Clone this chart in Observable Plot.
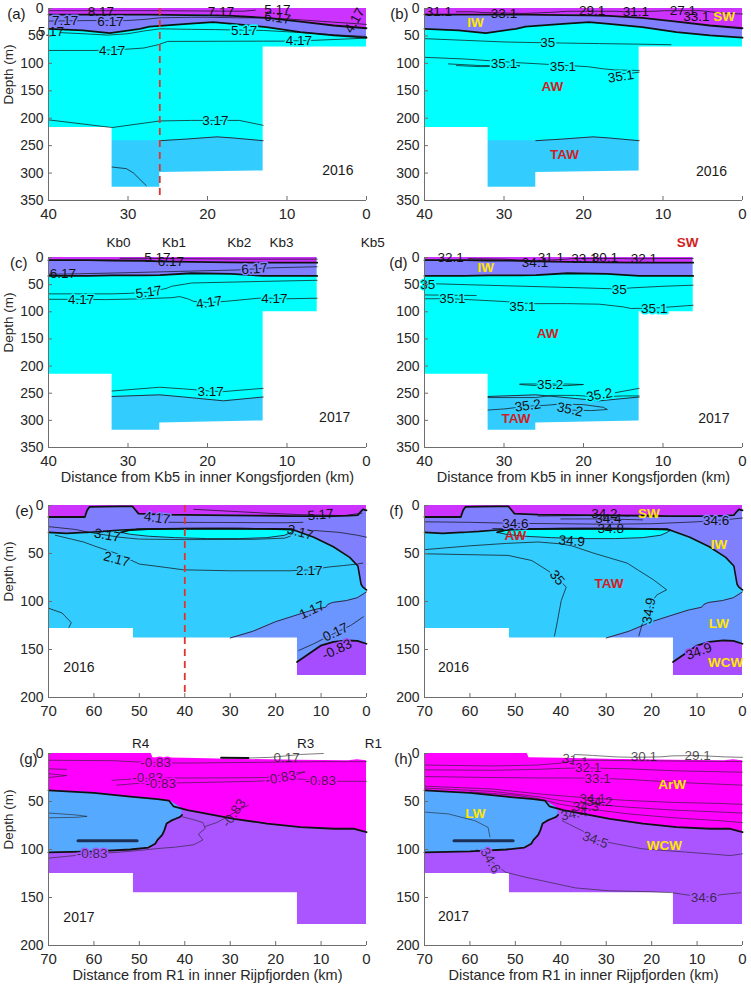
<!DOCTYPE html>
<html>
<head>
<meta charset="utf-8">
<script src="https://cdn.jsdelivr.net/npm/d3@7"></script>
<script src="https://cdn.jsdelivr.net/npm/@observablehq/plot@0.6"></script>
<style>
  body { margin: 0; background: #fff; }
  #fig { position: relative; width: 751px; height: 991px; overflow: hidden; font-family: "Liberation Sans", Arial, sans-serif; }
  #fig svg { position: absolute; }
</style>
</head>
<body>
<div id="fig"></div>
<script>
// ---------- axes ----------
const kongTicksX = [40, 30, 20, 10, 0];
const kongTicksY = [0, 50, 100, 150, 200, 250, 300, 350];
const rijpTicksX = [70, 60, 50, 40, 30, 20, 10, 0];
const rijpTicksY = [0, 50, 100, 150, 200];

const kongStationNames = ["Kb0", "Kb1", "Kb2", "Kb3", "Kb5"];
const kongStationKm = [31.2, 24.2, 16.0, 10.7, -0.8];
const rijpStationNames = ["R4", "R3", "R1"];
const rijpStationKm = [49.7, 13.4, -1.5];

// ---------- water-mass colours ----------
const SWc = "#cc33ff", IWc = "#8080ff", AWc = "#00ffff", TAWc = "#33ccff";
const LWc = "#6b95ff", WCWc = "#a64dff";
const ArWc = "#ff00ff", LW17c = "#55aaff", WCW17c = "#aa55ff";
const YEL = "#ffe600", RED = "#d11f1f";
const NOHALO = "none";

// ---------- Kongsfjorden 2016: [km, SW/IW interface, IW/AW interface] ----------
const kong16Layers = [[40,11,37],[35.7,11,40],[32.3,11,45],[28.5,11,37],[27.3,11,33],[22.6,12,28],[19.3,12.5,25],[16.8,13.5,28],[12.6,17,34],[8.3,24,43],[4.1,31,49],[0,36,53]];
const kong16Taw = [[40,241],[26,241],[22.6,238],[18.8,234],[16.8,236],[13,241],[0,241]];
const kong16Bottom = [[40,217],[32,217],[32,326],[26,326],[26,299],[13,296],[13,70],[0,70]];

const kongT16Lines = [
  [[40,4],[26,4],[21,4.5],[15.5,5],[14,3]],
  [[40,23],[35,22],[30.2,22],[28,20],[26,17],[22,16],[20,16],[16,17],[12.5,17],[10,19],[6,23],[3,26],[0,29]],
  [[38.5,44],[35,46.5],[32.5,48.5],[30,46],[28,41],[26,37],[22,38],[19,38.5],[13,40],[8,44],[4,48],[0,51]],
  [[40,76.5],[34,76.5],[30,74],[28,72],[26.2,66],[25,60],[13,59.5],[10.5,59.5],[6.5,58],[0,54]],
  [[40,203],[32,217],[26,205],[22,204],[16,204],[13,213]],
  [[32,289],[30.2,292],[29.3,300],[27.7,323]]
];
const kongT16Labels = [
  {t:"8.17", d:33.4, z:5, bg:NOHALO}, {t:"7.17", d:18.3, z:5, bg:NOHALO}, {t:"5.17", d:11.2, z:2, bg:NOHALO},
  {t:"7.17", d:37.9, z:22, bg:IWc}, {t:"6.17", d:32.2, z:24, bg:IWc}, {t:"6.17", d:11.2, z:17, r:8, bg:NOHALO},
  {t:"5.17", d:39.7, z:43, bg:NOHALO}, {t:"5.17", d:15.4, z:40, bg:AWc},
  {t:"4.17", d:32, z:76.5, bg:AWc}, {t:"4.17", d:8.5, z:59, bg:AWc}, {t:"4.17", d:1.5, z:22, r:-60, bg:NOHALO},
  {t:"3.17", d:19, z:204, bg:AWc}
];
const kongS16Lines = [
  [[36,6],[34,6],[32.5,7.5],[27.5,9],[24,7],[22,5],[15.8,5],[15,6],[11,5],[9.8,4],[5.2,4],[4,6],[2,9],[0,10]],
  [[40,55],[35,58],[30,61],[26.5,62],[22.5,63],[18,64],[13,65],[9,66]],
  [[40,89],[35,92],[32,95],[28,99],[25.5,101],[19.5,106],[17.5,110],[16,112],[13,113]],
  [[37,101],[33,104],[28,104.5],[33,106],[36,104]],
  [[17,120],[14,118],[13,116]]
];
const kongS16Labels = [
  {t:"31.1", d:38.2, z:5, bg:NOHALO}, {t:"33.1", d:30, z:9, bg:NOHALO}, {t:"29.1", d:18.9, z:3.6, bg:NOHALO},
  {t:"31.1", d:13.4, z:6.6, bg:NOHALO}, {t:"27.1", d:7.5, z:3.6, bg:NOHALO}, {t:"33.1", d:5.8, z:14, bg:NOHALO},
  {t:"35", d:24.5, z:63, bg:AWc}, {t:"35.1", d:30, z:100, bg:AWc}, {t:"35.1", d:22.6, z:106, bg:AWc},
  {t:"35.1", d:15.3, z:124, r:-8, bg:AWc}
];
const kongS16Masses = [
  {t:"IW", d:33.6, z:25, c:YEL}, {t:"SW", d:2.3, z:14, c:YEL},
  {t:"AW", d:23.9, z:142, c:RED}, {t:"TAW", d:22.4, z:266, c:RED}
];

// ---------- Kongsfjorden 2017 ----------
const kong17Layers = [[40,5,34],[35,5,34],[32,5.5,33],[28,6,33],[26,7,32.5],[22,8,29],[17,9,30],[13,9.5,34],[10,9.5,34],[6.2,9.5,34]];
const kong17Taw = [[40,256],[32,256],[26,253],[23,257],[18,264],[13,257],[6.2,257]];
const kong17Bottom = [[40,215],[32,215],[32,318],[26,318],[26,305],[13,301],[13,100],[6.2,100],[6.2,0],[0,0]];

const kongT17Lines = [
  [[31,1.5],[28,1.5],[24,2],[20,2.5],[15,3],[10,3],[6.2,3]],
  [[40,31],[36.3,30],[30,28],[22,25],[16.3,23],[12,19],[6.2,17]],
  [[40,67],[32,67],[29.8,66],[27.4,64],[25.2,57],[24.5,53],[22,47],[13,44],[6.2,42]],
  [[40,77],[35.9,77],[32.8,77.6],[28,76],[24.5,74],[23.5,72],[22.5,76],[21.7,81],[19.8,83],[17.6,80.6],[15,77],[13.6,75],[11.6,75],[10,76],[6.2,75]],
  [[32,246],[26,239],[23,242],[19.6,246],[18,247],[13,241]]
];
const kongT17Labels = [
  {t:"5.17", d:26.3, z:1, bg:NOHALO}, {t:"6.17", d:24.6, z:8, bg:NOHALO}, {t:"6.17", d:38.2, z:30.5, bg:NOHALO},
  {t:"6.17", d:14.1, z:21, r:-5, bg:IWc}, {t:"5.17", d:27.4, z:64, r:-8, bg:AWc}, {t:"4.17", d:35.9, z:77, bg:AWc},
  {t:"4.17", d:19.8, z:83, r:-8, bg:AWc}, {t:"4.17", d:11.6, z:75, bg:AWc}, {t:"3.17", d:19.6, z:248, bg:AWc}
];
const kongS17Lines = [
  [[34.5,2],[30,3],[28,5],[26,6],[22,3],[21.5,2],[15,2],[14,2.5],[10,2],[6.2,2]],
  [[38.5,48.5],[30,52],[20,56],[15.5,58],[14,56],[10,53],[6.2,51]],
  [[40,69],[33.5,70]],
  [[40,76],[36.5,76],[34,78],[30,81],[27.7,84],[26,85],[22,85],[18,86],[15,91],[14,94],[11.1,93],[9,91],[6.2,88]],
  [[28,233],[26.3,233],[24.2,233],[22.3,233],[20,234],[22,236],[26,236],[28,234]],
  [[16,249],[13,241]],
  [[32,258],[26,258],[24,254],[21,254],[18,257],[15,255],[13,255]],
  [[32,281],[30,279],[27,274],[24.5,272],[23,270],[20,271],[17.5,276],[17,280],[19,282],[21.7,281]]
];
const kongS17Labels = [
  {t:"32.1", d:36.7, z:1, bg:NOHALO}, {t:"34.1", d:26.1, z:9, bg:NOHALO}, {t:"31.1", d:24.1, z:0, bg:NOHALO},
  {t:"33.1", d:19.9, z:1.5, bg:NOHALO}, {t:"30.1", d:17.3, z:0.5, bg:NOHALO}, {t:"32.1", d:12.4, z:2, bg:NOHALO},
  {t:"35", d:39.6, z:50, bg:AWc}, {t:"35", d:15.5, z:59, bg:AWc},
  {t:"35.1", d:36.5, z:75, bg:AWc}, {t:"35.1", d:27.7, z:90, bg:AWc}, {t:"35.1", d:11.1, z:95, bg:AWc},
  {t:"35.2", d:24.2, z:235, bg:AWc}, {t:"35.2", d:18, z:253, r:-10, bg:AWc},
  {t:"35.2", d:27, z:273, r:-8, bg:TAWc}, {t:"35.2", d:21.7, z:280, r:12, bg:TAWc}
];
const kongS17Masses = [
  {t:"IW", d:32.3, z:19.6, c:YEL}, {t:"AW", d:24.5, z:140.6, c:RED},
  {t:"TAW", d:28.5, z:296, c:RED}, {t:"SW", d:6.9, z:-28, c:RED}
];

// ---------- Rijpfjorden 2016: [km, SW/IW interface, top of AW/TAW] ----------
const rijp16Layers = [[70,12,28],[66,12,29],[62,12,28],[61.5,5,28],[61,1.5,27.8],[58,1.2,27],[54,1,25.5],[51.5,1,25],[50.8,5,24.8],[50.2,8.5,24.5],[45,9.5,24.2],[40,9.8,24],[30,10.2,24],[20,10.7,24.3],[16.6,11,24.5],[11.6,11,33],[7.3,11,43],[3.7,10.5,54],[1.9,10,63],[1.2,6,82],[0.8,4,85],[0,5,88]];
const rijp16AW = [[54,28,28],[52,25.5,30],[48,24.6,32],[42,24.3,33.5],[35,24.2,34.5],[28,24.2,34.5],[22,24.4,33.5],[18,24.8,31],[16.6,25,28],[16,26,26]];
const rijp16LW = [[30,138],[25,131],[20,121],[16,115],[12,109],[9,106],[8.5,103],[7.5,101],[4.4,99],[2,96],[0,90]];
const rijp16WCW = [[15.3,163],[12.5,154],[10.1,146],[7.3,142],[4.2,140.6],[2,141],[0,144]];
const rijp16Bottom = [[70,128],[51.3,128],[51.3,138],[15.2,138],[15.2,177],[0,177]];

const rijpT16Lines = [
  [[43.5,17.5],[30,17.7],[18,18],[14,17.5]],
  [[38,4],[30,6],[22,8],[15,9.5],[10.1,10],[5,10.5],[1,8]],
  [[70,22],[64,25],[61,28],[57.1,31],[54.5,33],[50,35],[40,35.5],[25,35.3],[18,34],[16.8,32]],
  [[11.6,26],[6,28],[2,31],[0,33]],
  [[68.5,31],[62.3,38],[59.4,43],[55,50],[50,61],[45,64],[40.3,67],[30,68],[16.8,68],[12.6,67],[8.2,64],[5,62.5],[2,61],[0.8,60]],
  [[14.9,151],[11.6,144],[7.9,135],[3.5,125],[0.7,116]],
  [[70,107],[67,112],[65,122],[65.5,127]]
];
const rijpT16Labels = [
  {t:"4.17", d:46.1, z:13, r:8, bg:IWc}, {t:"5.17", d:10.1, z:9.6, r:-5, bg:NOHALO},
  {t:"3.17", d:57.1, z:31, r:10, bg:NOHALO}, {t:"3.17", d:14.6, z:28, r:15, bg:NOHALO},
  {t:"2.17", d:55, z:56, r:15, bg:TAWc}, {t:"2.17", d:12.6, z:67.5, bg:TAWc},
  {t:"1.17", d:12, z:109, r:-25, bg:NOHALO}, {t:"0.17", d:6.8, z:132, r:-25, bg:LWc},
  {t:"-0.83", d:6.5, z:150, r:-25, bg:WCWc}
];
const rijpS16Lines = [
  [[70,50.3],[51.6,52],[46.4,57.3],[42.8,68],[40.8,75.3],[38.8,85],[39.9,99],[41,127],[41.4,136]],
  [[70,46],[60,42],[52,39.5],[45,38],[40.1,39.9],[37.6,42],[32.8,49.6],[25.4,60],[19.6,77.4],[16.7,87.8],[18.8,93],[20,100],[20.6,109.7],[22.1,123.6],[22.8,135.8]],
  [[70,17],[60,17.5],[50,18.6],[40,19],[30,19.5],[20,19],[10,17],[5.8,15.6],[2,14],[0,13]],
  [[55,24],[45,24.5],[29,24.3],[20,24]],
  [[45,11],[35,10.5],[30.4,10],[25,11]],
  [[40,14],[29.5,14],[22,15]]
];
const rijpS16Labels = [
  {t:"34.6", d:50, z:18.6, bg:IWc}, {t:"34.2", d:30.4, z:8.8, bg:NOHALO}, {t:"34.4", d:29.5, z:14, bg:NOHALO},
  {t:"34.8", d:29, z:24.3, bg:NOHALO}, {t:"34.9", d:37.6, z:37, r:5, bg:NOHALO}, {t:"34.6", d:5.8, z:15.6, bg:IWc},
  {t:"35", d:40.8, z:75.3, r:50, bg:TAWc}, {t:"34.9", d:20.6, z:109.7, r:-80, bg:TAWc},
  {t:"34.9", d:9.6, z:152, r:-20, bg:WCWc}
];
const rijpS16Masses = [
  {t:"SW", d:20.6, z:8.2, c:YEL}, {t:"AW", d:50, z:31.3, c:RED}, {t:"IW", d:5.2, z:41, c:YEL},
  {t:"TAW", d:29.4, z:81, c:RED}, {t:"LW", d:5.2, z:122.6, c:YEL}, {t:"WCW", d:3.7, z:164, c:YEL}
];

// ---------- Rijpfjorden 2017 ----------
const rijp17Surface = [[70,0],[47.4,0],[47,4.5],[40,5],[30,6],[15,7],[4,7.5],[2,6.5],[0,7.5]];
const rijp17ArW = [[70,38.5],[60,41],[52,45],[46,47.5],[43.5,49],[42.5,55],[39.4,59],[35,63],[29.2,68],[21.9,73],[14.5,76.7],[7.1,78.4],[2.7,78.4],[0,82]];
const rijp17LW = [[70,38.5,103],[60,41,102],[52,45,100],[48,46.5,98],[46.5,47.2,94],[46,47.5,90],[45,48,85],[44.5,48.5,80],[44,49,73],[43,50,70],[42,53,68],[41,56,66],[40.6,60,64]];
const rijp17Core = [[63.5,91],[50.5,91]];
const rijp17Bottom = [[70,125],[51.3,125],[51.3,145],[15.2,145],[15.2,178],[0,178]];

const rijpT17Lines = [
  [[70,7],[56,7.5],[46.4,9.7],[40,10],[30,9.5],[20,9],[10,8.5],[0,8.5]],
  [[70,16],[66,16.5]],
  [[70,21],[66,23],[70,25]],
  [[56,28],[50,26],[44,25.5],[36,25.5],[28,25.3],[22,25],[17,21],[13.5,19],[16,23],[19,25.5],[15,26.5],[12,27.5],[10.1,28.8],[5,29],[0,29]],
  [[55,33],[50,31],[45.3,31],[40,30.5],[35,30],[25,29],[20,28]],
  [[70,62],[64,64],[61.5,65.5],[64,66.5],[70,67]],
  [[40.5,66],[38,69],[36,72],[35.5,78],[37,84],[36,90],[38,95],[42,97.5],[46,99],[50,101],[55,103],[60.4,104.5],[70,109]],
  [[35.5,76],[33,72],[31,67],[29.2,62],[27.5,57],[26,54]],
  [[26,4.7],[21,4],[14.5,1],[9.5,0]]
];
const rijpT17Thick017 = [[32,4.5],[26,4.7]];
const rijpT17Labels = [
  {t:"-0.83", d:46.4, z:9.7, bg:ArWc}, {t:"-0.83", d:48.2, z:25.3, bg:ArWc}, {t:"-0.83", d:45.3, z:31, bg:ArWc},
  {t:"-0.83", d:18.9, z:25.3, r:-10, bg:ArWc}, {t:"-0.83", d:10.1, z:28.8, bg:ArWc},
  {t:"-0.83", d:29.2, z:62, r:-55, bg:NOHALO}, {t:"-0.83", d:60.4, z:104.5, bg:WCW17c},
  {t:"0.17", d:17.6, z:4, bg:NOHALO}
];
const rijpS17Lines = [
  [[37,1],[33,2],[28,3.5],[24,4],[21.7,3.8],[18,3.5],[15.5,2.5],[9.9,2.1],[4,3.5],[0,4]],
  [[70,12],[55,13],[45,12],[40,10],[36.9,7.3],[32,7],[25,7.5],[10,8],[0,8.5]],
  [[70,17],[55,17.5],[45,16.5],[40,15.5],[34,15],[25,16],[15,18],[5,19],[0,19.5]],
  [[70,24],[55,25],[45,25.5],[40,25.5],[31.9,25.7],[25,27],[15,30],[5,32],[0,33]],
  [[70,34],[55,37],[45,42],[40,44],[35,46],[25,49],[15,51],[5,52],[0,53]],
  [[70,36],[55,39.5],[45,45],[40,49],[35,52],[25,56],[15,59],[5,61],[0,62]],
  [[60,40],[50,43.5],[45,47],[40,53],[35,57],[25,63],[15,67],[5,70],[0,72]],
  [[39.7,70],[33.8,84],[32.4,90],[28,94],[22.1,99.3],[7.4,104.5],[2.7,106.3],[0,104.5]],
  [[58.5,100],[55.5,111.5],[52.2,123.6],[47.8,128.8],[36.8,140],[29.5,143],[20,144],[15.5,145],[8.5,150],[4.6,147],[0.4,145]],
  [[70,61],[64.7,63],[58.9,70],[56,77],[55.6,87]]
];
const rijpS17Labels = [
  {t:"31.1", d:36.9, z:7.3, r:10, bg:NOHALO}, {t:"30.1", d:21.7, z:3.8, bg:NOHALO}, {t:"29.1", d:9.9, z:2.1, bg:NOHALO},
  {t:"32.1", d:34, z:15, bg:ArWc}, {t:"33.1", d:31.9, z:25.7, bg:ArWc},
  {t:"34.1", d:33, z:47, bg:NOHALO}, {t:"34.2", d:31.5, z:50, bg:NOHALO}, {t:"34.3", d:34.5, z:55, bg:NOHALO},
  {t:"34.4", d:37.1, z:62.9, r:-10, bg:NOHALO}, {t:"34.5", d:32.4, z:90, r:20, bg:WCW17c},
  {t:"34.6", d:55.5, z:111.5, r:60, bg:WCW17c}, {t:"34.6", d:8.5, z:150, bg:WCW17c}
];
const rijpS17Masses = [
  {t:"ArW", d:15.5, z:32.3, c:YEL}, {t:"LW", d:58.8, z:62.9, c:YEL}, {t:"WCW", d:17.2, z:95.8, c:YEL}
];

// ---------- drawing helpers ----------
const FONT = '"Liberation Sans", Arial, sans-serif';
const AXIS = "#6e6e6e";
const fig = document.getElementById("fig");

const fillBand = (rows, y1, y2, fill) => Plot.areaY(rows, {x: r => r[0], y1, y2, fill});
const edge = (rows, i, w, stroke = "#111", op = 1) =>
  Plot.line(rows, {x: r => r[0], y: r => r[i], stroke, strokeWidth: w, strokeOpacity: op});
const contours = (list, stroke = "#111", op = 0.9) =>
  list.map(l => Plot.line(l, {x: p => p[0], y: p => p[1], stroke, strokeWidth: 0.8, strokeOpacity: op}));
// labels carry a thin halo in the local fill colour so the contour appears broken under them
const contourText = (labels, fill = "#111", op = 1) => Plot.text(labels, {
  x: "d", y: "z", text: "t", rotate: l => l.r || 0, fill, fillOpacity: op,
  stroke: l => l.bg, strokeWidth: 3, strokeLinejoin: "round", paintOrder: "stroke", fontSize: 13.5
});
const massText = (labels) => Plot.text(labels, {
  x: "d", y: "z", text: "t", fill: l => l.c, fontWeight: "bold", fontSize: 13.5
});
const yearText = (t, d, z) => Plot.text([{t, d, z}], {x: "d", y: "z", text: "t", fill: "#1a1a1a", fontSize: 14});

function panel(o) {
  const pw = o.width - o.ml - o.mr;
  const ph = o.height - o.mt - o.mb;
  const marks = [
    Plot.areaY([[o.xmax], [0]], {x: r => r[0], y1: 0, y2: o.ymax, fill: o.base}),
    ...o.fills,
    Plot.areaY(o.bottom, {x: r => r[0], y1: r => r[1], y2: o.ymax, fill: "white"}),
    ...(o.surface ? [Plot.areaY(o.surface, {x: r => r[0], y1: 0, y2: r => r[1], fill: "white"})] : []),
    ...o.lines,
    ...(o.dashed != null ? [Plot.ruleX([o.dashed], {stroke: "#e2342c", strokeWidth: 1.8, strokeDasharray: "7,5"})] : []),
    ...o.texts,
    Plot.ruleY([o.ymax], {stroke: AXIS}),
    Plot.ruleX([o.xmax], {stroke: AXIS}),
    Plot.tickX(o.xticks, {x: d => d, insetTop: ph - 4, stroke: AXIS}),
    Plot.tickY(o.yticks, {y: d => d, insetRight: pw - 4, stroke: AXIS}),
    Plot.axisX({ticks: o.xticks, tickSize: 0, tickPadding: 8, fontSize: 15, label: null}),
    Plot.axisY({ticks: o.yticks, tickSize: 0, tickPadding: 5, fontSize: 14, label: null}),
    Plot.text([o.letter], {text: d => d, frameAnchor: "top-left", dx: o.letterDx, textAnchor: "end", fontSize: 15, fill: "#1a1a1a"})
  ];
  if (o.ylabel) marks.push(Plot.text(["Depth (m)"], {text: d => d, frameAnchor: "left", rotate: -90, dx: -40, fontSize: 13.5, fill: "#262626"}));
  if (o.xlabel) marks.push(Plot.text([o.xlabel], {text: d => d, frameAnchor: "bottom", dy: 34, fontSize: 14.5, fill: "#262626"}));
  if (o.stations) marks.push(Plot.text(o.stations.km, {x: d => d, text: (d, i) => o.stations.names[i], frameAnchor: "top", dy: o.stations.dy, fontSize: 13.5, fill: "#1a1a1a"}));
  const svg = Plot.plot({
    width: o.width, height: o.height,
    marginTop: o.mt, marginRight: o.mr, marginBottom: o.mb, marginLeft: o.ml,
    x: {domain: [o.xmax, 0]},
    y: {domain: [0, o.ymax], reverse: true},
    color: {type: "identity"},
    style: {background: "none", fontFamily: FONT, fontSize: "13px", color: "#262626", overflow: "visible"},
    marks
  });
  svg.style.left = o.left + "px";
  svg.style.top = o.top + "px";
  fig.appendChild(svg);
}

const L = {left: 0, width: 375, ml: 48, mr: 9};
const R = {left: 375, width: 376, ml: 49, mr: 9};
const row1 = {top: 0, height: 230, mt: 8, mb: 30};
const row2 = {top: 225, height: 267, mt: 32, mb: 45};
const row3 = {top: 492, height: 233, mt: 13, mb: 28};
const row4 = {top: 725, height: 266, mt: 28, mb: 46};
const kongX = "Distance from Kb5 in inner Kongsfjorden (km)";
const rijpX = "Distance from R1 in inner Rijpfjorden (km)";

// water-mass fills and their interfaces
const kong16Fills = [
  fillBand(kong16Taw, r => r[1], 350, TAWc),
  fillBand(kong16Layers, 0, r => r[1], SWc),
  fillBand(kong16Layers, r => r[1], r => r[2], IWc)
];
const kong16Edges = [edge(kong16Layers, 1, 1.8), edge(kong16Layers, 2, 1.8), edge(kong16Taw.filter(r => r[0] <= 32 && r[0] >= 13), 1, 0.8)];
const kong17Fills = [
  fillBand(kong17Taw, r => r[1], 350, TAWc),
  fillBand(kong17Layers, 0, r => r[1], SWc),
  fillBand(kong17Layers, r => r[1], r => r[2], IWc)
];
const kong17Edges = [edge(kong17Layers, 1, 1.8), edge(kong17Layers, 2, 1.8), edge(kong17Taw.filter(r => r[0] <= 32 && r[0] >= 13), 1, 0.8)];
const rijp16Fills = [
  fillBand(rijp16LW, r => r[1], 200, LWc),
  fillBand(rijp16WCW, r => r[1], 200, WCWc),
  fillBand(rijp16Layers, 0, r => r[1], SWc),
  fillBand(rijp16Layers, r => r[1], r => r[2], IWc),
  fillBand(rijp16AW, r => r[1], r => r[2], AWc)
];
const rijp16Edges = [
  edge(rijp16Layers, 1, 1.8), edge(rijp16Layers, 2, 1.6), edge(rijp16AW, 1, 1.8), edge(rijp16AW, 2, 0.8),
  edge(rijp16LW, 1, 0.8), edge(rijp16WCW, 1, 1.8)
];
const rijp17Fills = [
  fillBand(rijp17ArW, 0, r => r[1], ArWc),
  fillBand(rijp17LW, r => r[1], r => r[2], LW17c)
];
const rijp17Edges = [
  edge(rijp17ArW, 1, 1.8), edge(rijp17LW, 2, 1.8),
  Plot.line(rijp17Core, {x: p => p[0], y: p => p[1], stroke: "#1e2f55", strokeWidth: 3})
];

// (a) temperature, Kongsfjorden 2016
panel({...L, ...row1, xmax: 40, ymax: 350, xticks: kongTicksX, yticks: kongTicksY, base: AWc,
  fills: kong16Fills, bottom: kong16Bottom, dashed: 26, letter: "(a)", letterDx: -23, ylabel: true,
  lines: [...contours(kongT16Lines), ...kong16Edges],
  texts: [contourText(kongT16Labels), yearText("2016", 3.6, 296)]});

// (b) salinity, Kongsfjorden 2016
panel({...R, ...row1, xmax: 40, ymax: 350, xticks: kongTicksX, yticks: kongTicksY, base: AWc,
  fills: kong16Fills, bottom: kong16Bottom, letter: "(b)", letterDx: -16,
  lines: [...contours(kongS16Lines), ...kong16Edges],
  texts: [contourText(kongS16Labels), massText(kongS16Masses), yearText("2016", 3.9, 296.6)]});

// (c) temperature, Kongsfjorden 2017
panel({...L, ...row2, xmax: 40, ymax: 350, xticks: kongTicksX, yticks: kongTicksY, base: AWc,
  fills: kong17Fills, bottom: kong17Bottom, letter: "(c)", letterDx: -21, ylabel: true, xlabel: kongX,
  stations: {km: kongStationKm, names: kongStationNames, dy: -20},
  lines: [...contours(kongT17Lines), ...kong17Edges],
  texts: [contourText(kongT17Labels), yearText("2017", 4.0, 294)]});

// (d) salinity, Kongsfjorden 2017
panel({...R, ...row2, xmax: 40, ymax: 350, xticks: kongTicksX, yticks: kongTicksY, base: AWc,
  fills: kong17Fills, bottom: kong17Bottom, letter: "(d)", letterDx: -17, xlabel: kongX,
  lines: [...contours(kongS17Lines), ...kong17Edges],
  texts: [contourText(kongS17Labels), massText(kongS17Masses), yearText("2017", 3.6, 297)]});

// (e) temperature, Rijpfjorden 2016
panel({...L, ...row3, xmax: 70, ymax: 200, xticks: rijpTicksX, yticks: rijpTicksY, base: TAWc,
  fills: rijp16Fills, bottom: rijp16Bottom, dashed: 40, letter: "(e)", letterDx: -15, ylabel: true,
  lines: [...contours(rijpT16Lines), ...rijp16Edges],
  texts: [contourText(rijpT16Labels), yearText("2016", 63.3, 169)]});

// (f) salinity, Rijpfjorden 2016
panel({...R, ...row3, xmax: 70, ymax: 200, xticks: rijpTicksX, yticks: rijpTicksY, base: TAWc,
  fills: rijp16Fills, bottom: rijp16Bottom, letter: "(f)", letterDx: -21,
  lines: [...contours(rijpS16Lines), ...rijp16Edges],
  texts: [contourText(rijpS16Labels), massText(rijpS16Masses), yearText("2016", 63.6, 169)]});

// (g) temperature, Rijpfjorden 2017
panel({...L, ...row4, xmax: 70, ymax: 200, xticks: rijpTicksX, yticks: rijpTicksY, base: WCW17c,
  fills: rijp17Fills, bottom: rijp17Bottom, surface: rijp17Surface, letter: "(g)", letterDx: -11, ylabel: true, xlabel: rijpX,
  stations: {km: rijpStationKm, names: rijpStationNames, dy: -15},
  lines: [...contours(rijpT17Lines, "#222", 0.75), ...rijp17Edges,
    Plot.line(rijpT17Thick017, {x: p => p[0], y: p => p[1], stroke: "#111", strokeWidth: 2})],
  texts: [contourText(rijpT17Labels, "#1a1a1a", 0.78), yearText("2017", 63.3, 170.5)]});

// (h) salinity, Rijpfjorden 2017
panel({...R, ...row4, xmax: 70, ymax: 200, xticks: rijpTicksX, yticks: rijpTicksY, base: WCW17c,
  fills: rijp17Fills, bottom: rijp17Bottom, surface: rijp17Surface, letter: "(h)", letterDx: -12, xlabel: rijpX,
  lines: [...contours(rijpS17Lines, "#222", 0.75), ...rijp17Edges],
  texts: [contourText(rijpS17Labels, "#1a1a1a", 0.78), massText(rijpS17Masses), yearText("2017", 63.6, 169.8)]});
</script>
</body>
</html>
